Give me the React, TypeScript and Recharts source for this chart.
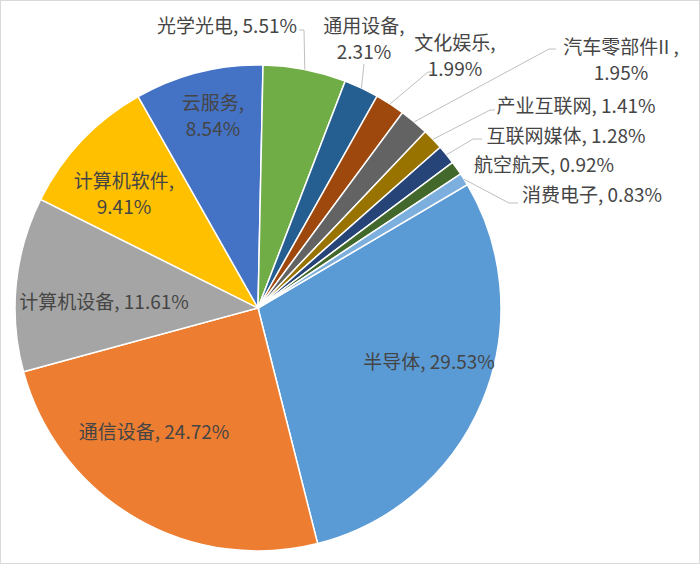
import React from 'react';
import { PieChart, Pie, Cell } from 'recharts';

const NAMES = [
  '半导体',
  '通信设备',
  '计算机设备',
  '计算机软件',
  '云服务',
  '光学光电',
  '通用设备',
  '文化娱乐',
  '汽车零部件II ',
  '产业互联网',
  '互联网媒体',
  '航空航天',
  '消费电子',
];
const VALUES = [29.53, 24.72, 11.61, 9.41, 8.54, 5.51, 2.31, 1.99, 1.95, 1.41, 1.28, 0.92, 0.83];

const COLORS = [
  '#5B9BD5', '#ED7D31', '#A5A5A5', '#FFC000', '#4472C4', '#70AD47',
  '#255E91', '#9E480E', '#636363', '#997300', '#264478', '#43682B', '#7CAFDD',
];

// where each label sits (Excel "best fit" look); leader = label-side points of the leader line
type LabelSpot = { x: number; y: number; split?: boolean; leader?: number[][] };
const LABEL_SPOTS: LabelSpot[] = [
  { x: 428, y: 359 },
  { x: 153, y: 429 },
  { x: 103, y: 299 },
  { x: 123, y: 178, split: true },
  { x: 212, y: 100, split: true },
  { x: 226, y: 23, leader: [[298, 29], [303, 29]] },
  { x: 363, y: 23, split: true, leader: [[363, 63]] },
  { x: 454, y: 40, split: true, leader: [[432, 71], [427, 71]] },
  { x: 620, y: 44, split: true, leader: [[555, 48], [548, 48]] },
  { x: 575, y: 103, leader: [[494, 109], [489, 109]] },
  { x: 565, y: 133, leader: [[481, 138], [472, 138]] },
  { x: 543, y: 162 },
  { x: 591, y: 192, leader: [[517, 202], [508, 202]] },
];

const data = NAMES.map((name, i) => ({ name, value: VALUES[i] }));

const RAD = Math.PI / 180;
const LINE_GAP = 26;
const FONT = "'Noto Sans CJK SC', 'Noto Sans', sans-serif";

const renderLabel = (props: any) => {
  const { cx, cy, midAngle, outerRadius, index } = props;
  const spot = LABEL_SPOTS[index];
  const name = NAMES[index];
  const pct = `${VALUES[index].toFixed(2)}%`;
  const edgeX = cx + outerRadius * Math.cos(-midAngle * RAD);
  const edgeY = cy + outerRadius * Math.sin(-midAngle * RAD);
  let line = null;
  if (spot.leader) {
    const pts = [...spot.leader, [edgeX, edgeY]].map((p) => p.join(',')).join(' ');
    line = <polyline points={pts} fill="none" stroke="#BFBFBF" strokeWidth={1} />;
  }
  return (
    <g key={`lbl-${index}`}>
      {line}
      {spot.split ? (
        <text textAnchor="middle" fill="#454545" fontSize={19} fontFamily={FONT}>
          <tspan x={spot.x} y={spot.y} dominantBaseline="central">{`${name},`}</tspan>
          <tspan x={spot.x} y={spot.y + LINE_GAP} dominantBaseline="central">{pct}</tspan>
        </text>
      ) : (
        <text
          x={spot.x}
          y={spot.y}
          textAnchor="middle"
          dominantBaseline="central"
          fill="#454545"
          fontSize={19}
          fontFamily={FONT}
        >
          {`${name}, ${pct}`}
        </text>
      )}
    </g>
  );
};

export default function App() {
  return (
    <div
      style={{
        position: 'absolute',
        left: 0,
        top: 0,
        width: 700,
        height: 564,
        background: '#fff',
        border: '1px solid #d9d9d9',
        boxSizing: 'border-box',
      }}
    >
      <PieChart width={698} height={562} margin={{ top: 0, right: 0, bottom: 0, left: 0 }}>
        <Pie
          data={data}
          dataKey="value"
          nameKey="name"
          cx={257}
          cy={307}
          outerRadius={243}
          startAngle={30.5}
          endAngle={-329.5}
          stroke="#fff"
          strokeWidth={1.5}
          label={renderLabel}
          labelLine={false}
          isAnimationActive={false}
        >
          {data.map((entry, index) => (
            <Cell key={`cell-${index}`} fill={COLORS[index]} />
          ))}
        </Pie>
      </PieChart>
    </div>
  );
}
